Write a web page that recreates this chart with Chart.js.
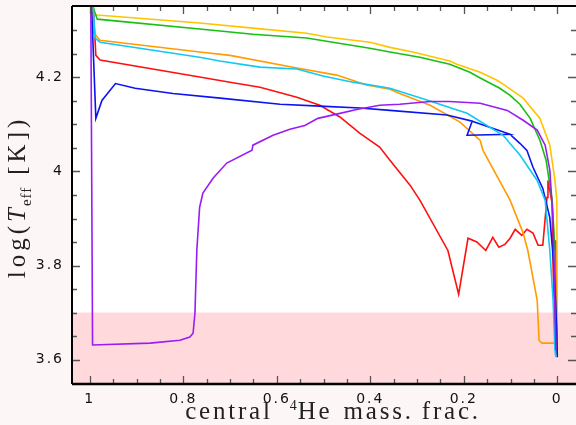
<!DOCTYPE html>
<html>
<head>
<meta charset="utf-8">
<script src="https://cdn.jsdelivr.net/npm/chart.js@4"></script>
<style>
  body { margin: 0; background: #fcf6f6; }
  #wrap { width: 576px; height: 425px; }
</style>
</head>
<body>
<div id="wrap"><canvas id="hrChart"></canvas></div>
<script>
// central He mass fraction (x) and log Teff (y) per track
const yellowX = [1.0, 0.993, 0.984, 0.765, 0.651, 0.536, 0.493, 0.401, 0.358, 0.309, 0.230, 0.215, 0.165, 0.129, 0.116, 0.073, 0.037, 0.016, 0.005, 0.001, 0.0];
const yellowY = [4.40, 4.335, 4.333, 4.316, 4.305, 4.294, 4.286, 4.275, 4.264, 4.254, 4.235, 4.228, 4.211, 4.194, 4.186, 4.156, 4.113, 4.056, 3.981, 3.939, 3.62];

const greenX = [0.995, 0.993, 0.984, 0.765, 0.651, 0.536, 0.401, 0.358, 0.294, 0.230, 0.187, 0.165, 0.123, 0.101, 0.080, 0.058, 0.037, 0.024, 0.011, 0.005, 0.003];
const greenY = [4.40, 4.35, 4.324, 4.303, 4.292, 4.284, 4.262, 4.254, 4.243, 4.228, 4.211, 4.199, 4.177, 4.162, 4.143, 4.113, 4.066, 4.024, 3.939, 3.832, 3.61];

const orangeX = [0.995, 0.991, 0.978, 0.765, 0.700, 0.557, 0.472, 0.408, 0.358, 0.337, 0.272, 0.208, 0.165, 0.159, 0.101, 0.073, 0.063, 0.043, 0.039, 0.033, 0.001, 0.0];
const orangeY = [4.40, 4.294, 4.279, 4.254, 4.247, 4.220, 4.205, 4.184, 4.175, 4.166, 4.141, 4.105, 4.066, 4.045, 3.939, 3.869, 3.832, 3.726, 3.641, 3.635, 3.635, 3.62];

const cyanX = [0.995, 0.989, 0.978, 0.765, 0.722, 0.636, 0.557, 0.501, 0.437, 0.358, 0.279, 0.193, 0.116, 0.080, 0.043, 0.026, 0.016, 0.009, 0.005, 0.003];
const cyanY = [4.40, 4.284, 4.275, 4.243, 4.235, 4.222, 4.218, 4.203, 4.190, 4.177, 4.152, 4.124, 4.077, 4.035, 3.981, 3.939, 3.832, 3.726, 3.62, 3.605];

const redX = [0.995, 0.987, 0.978, 0.765, 0.700, 0.636, 0.557, 0.508, 0.465, 0.422, 0.380, 0.358, 0.315, 0.294, 0.234, 0.211, 0.191, 0.172, 0.153, 0.138, 0.125, 0.112, 0.101, 0.090, 0.076, 0.065, 0.052, 0.041, 0.031, 0.022, 0.020, 0.011, 0.009, 0.005, 0.003, 0.001];
const redY = [4.40, 4.247, 4.237, 4.201, 4.190, 4.179, 4.158, 4.141, 4.116, 4.081, 4.052, 4.024, 3.971, 3.939, 3.832, 3.739, 3.858, 3.850, 3.832, 3.860, 3.839, 3.845, 3.858, 3.877, 3.864, 3.877, 3.869, 3.843, 3.843, 3.945, 3.981, 3.932, 3.796, 3.662, 3.854, 3.651];

const blueX = [0.998, 0.987, 0.974, 0.945, 0.903, 0.822, 0.721, 0.593, 0.508, 0.422, 0.358, 0.236, 0.182, 0.193, 0.101, 0.182, 0.101, 0.080, 0.065, 0.052, 0.031, 0.016, 0.007, 0.001, 0.0];
const blueY = [4.40, 4.113, 4.151, 4.187, 4.177, 4.166, 4.156, 4.143, 4.139, 4.135, 4.130, 4.120, 4.107, 4.077, 4.079, 4.107, 4.079, 4.060, 4.045, 4.009, 3.964, 3.902, 3.796, 3.662, 3.605];

const purpleX = [0.998, 0.994, 0.871, 0.807, 0.786, 0.779, 0.775, 0.771, 0.765, 0.758, 0.736, 0.707, 0.653, 0.651, 0.608, 0.572, 0.540, 0.512, 0.472, 0.429, 0.380, 0.337, 0.272, 0.230, 0.165, 0.107, 0.073, 0.043, 0.026, 0.016, 0.009, 0.003];
const purpleY = [4.40, 3.631, 3.635, 3.641, 3.648, 3.656, 3.699, 3.833, 3.924, 3.954, 3.986, 4.018, 4.045, 4.056, 4.077, 4.090, 4.098, 4.113, 4.122, 4.132, 4.141, 4.143, 4.149, 4.149, 4.145, 4.130, 4.109, 4.088, 4.056, 4.003, 3.896, 3.62];

const xTicks = [1, 0.8, 0.6, 0.4, 0.2, 0];
const yTicks = [3.6, 3.8, 4, 4.2];
const coolLimit = 3.7;

const serif = '"Liberation Serif", "DejaVu Serif", serif';
const tickFont = '"DejaVu Sans", sans-serif';

function pts(xs, ys) {
    return xs.map((x, i) => ({ x: x, y: ys[i] }));
}

function track(xs, ys, color) {
    return {
        data: pts(xs, ys),
        borderColor: color,
        borderWidth: 1.6,
        showLine: true,
        pointRadius: 0,
        tension: 0
    };
}

// draws text pieces one after another, each with its own spacing and gap
function drawRun(c, parts, x0, y0) {
    parts.forEach(p => {
        c.font = p.font;
        c.letterSpacing = p.ls;
        c.fillText(p.text, x0, y0 + (p.dy || 0));
        x0 += c.measureText(p.text).width + (p.gap || 0);
    });
}
function runWidth(c, parts) {
    let w = 0;
    parts.forEach(p => {
        c.font = p.font;
        c.letterSpacing = p.ls;
        w += c.measureText(p.text).width + (p.gap || 0);
    });
    return w;
}

// background, pink band below log Teff = 3.7
const bandPlugin = {
    id: 'band',
    beforeDraw(chart) {
        const c = chart.ctx, a = chart.chartArea;
        c.save();
        c.fillStyle = '#fcf6f6';
        c.fillRect(0, 0, chart.width, chart.height);
        c.fillStyle = '#ffffff';
        c.fillRect(a.left, a.top, a.right - a.left, a.bottom - a.top);
        const yb = chart.scales.y.getPixelForValue(coolLimit);
        c.fillStyle = '#ffd9dc';
        c.fillRect(a.left, yb, a.right - a.left, a.bottom - yb);
        c.restore();
        c.letterSpacing = '2px';
    }
};

// frame, inward ticks and axis titles
const framePlugin = {
    id: 'frame',
    afterDraw(chart) {
        const c = chart.ctx, a = chart.chartArea;
        const xs = chart.scales.x, ys = chart.scales.y;
        c.save();
        c.strokeStyle = '#555';
        c.lineWidth = 1.3;
        for (let i = 0; i <= 20; i++) {
            const v = i * 0.05;
            const px = Math.round(xs.getPixelForValue(v)) + 0.5;
            const len = (i % 4 === 0) ? 8 : 5;
            c.beginPath();
            c.moveTo(px, a.bottom); c.lineTo(px, a.bottom - len);
            c.moveTo(px, a.top); c.lineTo(px, a.top + len);
            c.stroke();
        }
        for (let i = 0; i <= 16; i++) {
            const v = 3.55 + i * 0.05;
            const py = Math.round(ys.getPixelForValue(v)) + 0.5;
            if (py > a.bottom - 2 || py < a.top + 2) continue;
            const k = (v - 3.6) / 0.2;
            const len = Math.abs(k - Math.round(k)) < 1e-6 ? 8 : 5;
            c.beginPath();
            c.moveTo(a.left, py); c.lineTo(a.left + len, py);
            c.moveTo(a.right, py); c.lineTo(a.right - len, py);
            c.stroke();
        }
        c.strokeStyle = '#000';
        c.lineWidth = 2;
        c.beginPath();
        c.moveTo(a.left, a.top); c.lineTo(a.right, a.top);
        c.moveTo(a.left, a.top); c.lineTo(a.left, a.bottom);
        c.stroke();
        c.lineWidth = 2.5;
        c.beginPath();
        c.moveTo(a.left, a.bottom); c.lineTo(a.right, a.bottom);
        c.stroke();

        c.fillStyle = '#222';
        c.textBaseline = 'alphabetic';
        c.textAlign = 'left';
        // x title
        const big = '25px ' + serif, small = '14px ' + serif;
        const partsX = [
            { text: 'central', font: big, ls: '2.8px', gap: 17 },
            { text: '4', font: small, ls: '0px', dy: -9, gap: 1 },
            { text: 'He', font: big, ls: '2.8px', gap: 11 },
            { text: 'mass.', font: big, ls: '2.8px', gap: 8 },
            { text: 'frac.', font: big, ls: '2.8px' }
        ];
        drawRun(c, partsX, 333 - runWidth(c, partsX) / 2, 419);
        // y title
        const partsY = [
            { text: 'log(', font: '25px ' + serif, ls: '4px' },
            { text: 'T', font: 'italic 25px ' + serif, ls: '2px' },
            { text: 'eff', font: '15px ' + serif, ls: '1px', dy: 6, gap: 12 },
            { text: '[K])', font: '25px ' + serif, ls: '4px' }
        ];
        c.translate(25, 197);
        c.rotate(-Math.PI / 2);
        drawRun(c, partsY, -runWidth(c, partsY) / 2, 0);
        c.restore();
    }
};

new Chart(document.getElementById('hrChart'), {
    type: 'scatter',
    data: {
        datasets: [
            track(purpleX, purpleY, '#9a1cf5'),
            track(cyanX, cyanY, '#12c8f5'),
            track(blueX, blueY, '#0a14f0'),
            track(orangeX, orangeY, '#ff9c00'),
            track(greenX, greenY, '#18c012'),
            track(yellowX, yellowY, '#ffc400'),
            track(redX, redY, '#ff1010')
        ]
    },
    options: {
        responsive: true,
        maintainAspectRatio: false,
        animation: false,
        layout: { padding: { top: 6, right: 0, left: 0, bottom: 0 } },
        plugins: { legend: { display: false }, tooltip: { enabled: false } },
        scales: {
            x: {
                type: 'linear',
                reverse: true,
                min: -0.04,
                max: 1.038,
                grid: { display: false, drawTicks: false },
                border: { display: false },
                afterFit(s) { s.height = 41; s.paddingLeft = 0; s.paddingRight = 0; },
                afterBuildTicks(s) { s.ticks = xTicks.map(v => ({ value: v })); },
                ticks: {
                    padding: 7,
                    color: '#111',
                    font: { family: tickFont, size: 14 },
                    maxRotation: 0,
                    callback: v => String(+v.toFixed(1))
                }
            },
            y: {
                type: 'linear',
                min: 3.548,
                max: 4.352,
                grid: { display: false, drawTicks: false },
                border: { display: false },
                afterFit(s) { s.width = 72; s.paddingTop = 0; s.paddingBottom = 0; },
                afterBuildTicks(s) { s.ticks = yTicks.map(v => ({ value: v })); },
                ticks: {
                    padding: 8,
                    color: '#111',
                    font: { family: tickFont, size: 14 },
                    callback: v => String(+v.toFixed(1))
                }
            }
        }
    },
    plugins: [bandPlugin, framePlugin]
});
</script>
</body>
</html>
